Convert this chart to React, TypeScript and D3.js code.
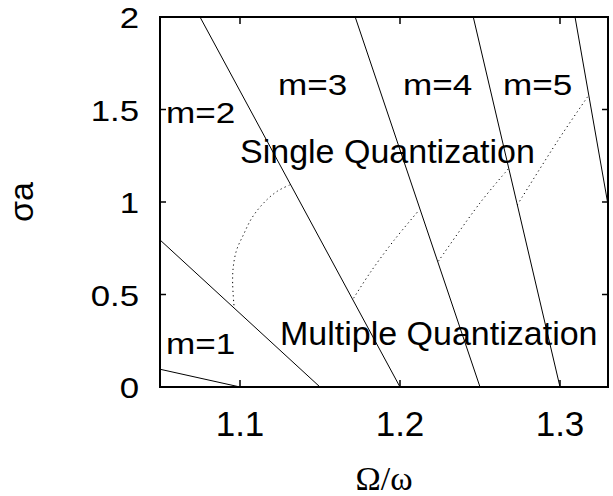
import React from 'react';
import * as d3 from 'd3';

// ---- data ----
const xDomain: [number, number] = [1.05, 1.33];
const yDomain: [number, number] = [0, 2];
const xTicks = [1.1, 1.2, 1.3];
const xTickLabels = ['1.1', '1.2', '1.3'];
const yTicks = [0, 0.5, 1, 1.5, 2];
const yTickLabels = ['0', '0.5', '1', '1.5', '2'];

// solid boundary lines between m regions (Ω/ω, σa)
const boundary1: [number, number][] = [[1.05, 0.096], [1.10, 0]];
const boundary2: [number, number][] = [[1.05, 0.795], [1.15, 0]];
const boundary3: [number, number][] = [[1.075, 2], [1.20, 0]];
const boundary4: [number, number][] = [[1.172, 2], [1.25, 0]];
const boundary5: [number, number][] = [[1.2458, 2], [1.30, 0]];
const boundary6: [number, number][] = [[1.3094, 2], [1.35, 0]];
const boundaries = [boundary1, boundary2, boundary3, boundary4, boundary5, boundary6];

// dotted single/multiple quantization borders
const dottedA: [number, number][] = [
  [1.131, 1.092], [1.1229, 1.056], [1.1146, 0.993], [1.1073, 0.912], [1.1021, 0.822],
  [1.0979, 0.741], [1.0958, 0.65], [1.0954, 0.561], [1.0963, 0.435],
];
const dottedB: [number, number][] = [[1.171, 0.48], [1.1815, 0.62], [1.196, 0.79], [1.212, 0.957]];
const dottedC: [number, number][] = [[1.224, 0.68], [1.25, 0.995], [1.268, 1.182]];
const dottedD: [number, number][] = [[1.2733, 0.984], [1.2989, 1.335], [1.318, 1.578]];
const dottedCurves = [dottedA, dottedB, dottedC, dottedD];

const regionLabels = ['m=1', 'm=2', 'm=3', 'm=4', 'm=5'];
const phaseLabels = ['Single Quantization', 'Multiple Quantization'];
const xLabel = 'Ω/ω';
const yLabel = 'σa';

export default function App() {
  const left = 160, right = 608, top = 17, bottom = 387;
  const x = d3.scaleLinear().domain(xDomain).range([left, right]);
  const y = d3.scaleLinear().domain(yDomain).range([bottom, top]);
  const line = d3.line<[number, number]>().x(d => x(d[0])).y(d => y(d[1]));
  const curve = d3.line<[number, number]>().x(d => x(d[0])).y(d => y(d[1])).curve(d3.curveCatmullRom);

  const sans = 'Liberation Sans, Arial, Helvetica, sans-serif';
  const serif = 'Liberation Serif, Times New Roman, serif';

  // region label pixel anchors (left ink edge, baseline)
  const regionPos: [number, number][] = [[166, 354], [166, 123], [278, 95], [403, 95], [503, 95]];

  return (
    <svg width={613} height={496} style={{ position: 'absolute', left: 0, top: 0, background: '#fff' }}
      xmlns="http://www.w3.org/2000/svg">
      <defs>
        <clipPath id="plotclip">
          <rect x={left} y={top} width={right - left} height={bottom - top} />
        </clipPath>
      </defs>
      <rect x={0} y={0} width={613} height={496} fill="#fff" />
      <g clipPath="url(#plotclip)">
        {boundaries.map((b, i) => (
          <path key={'b' + i} d={line(b) || ''} fill="none" stroke="#000" strokeWidth={1} />
        ))}
        {dottedCurves.map((c, i) => (
          <path key={'c' + i} d={curve(c) || ''} fill="none" stroke="#000" strokeWidth={1}
            strokeDasharray="1.2 3.2" />
        ))}
      </g>
      {/* ticks */}
      {xTicks.map((t, i) => (
        <g key={'xt' + i}>
          <line x1={x(t)} x2={x(t)} y1={bottom} y2={bottom - 7} stroke="#000" strokeWidth={1.5} />
          <line x1={x(t)} x2={x(t)} y1={top} y2={top + 7} stroke="#000" strokeWidth={1.5} />
          <text x={x(t)} y={436} textAnchor="middle" fontFamily={sans} fontSize={35}>{xTickLabels[i]}</text>
        </g>
      ))}
      {yTicks.map((t, i) => (
        <g key={'yt' + i}>
          <line x1={left} x2={left + 6} y1={y(t)} y2={y(t)} stroke="#000" strokeWidth={1.5} />
          <line x1={right} x2={right - 6} y1={y(t)} y2={y(t)} stroke="#000" strokeWidth={1.5} />
          <text transform={`translate(139,${y(t) + 11}) scale(1.16,1)`} textAnchor="end"
            fontFamily={sans} fontSize={30}>{yTickLabels[i]}</text>
        </g>
      ))}
      <rect x={left} y={top} width={right - left} height={bottom - top} fill="none" stroke="#000" strokeWidth={2} />
      {/* region labels */}
      {regionLabels.map((l, i) => (
        <text key={'r' + i} transform={`translate(${regionPos[i][0]},${regionPos[i][1]}) scale(1.17,1)`}
          fontFamily={sans} fontSize={30}>{l}</text>
      ))}
      <text x={240} y={163} fontFamily={sans} fontSize={34}>{phaseLabels[0]}</text>
      <text x={280} y={345} fontFamily={sans} fontSize={34}>{phaseLabels[1]}</text>
      {/* axis titles */}
      <text x={384} y={490} textAnchor="middle" fontFamily={serif} fontSize={34}>{xLabel}</text>
      <text transform="translate(33,202) rotate(-90)" textAnchor="middle" fontFamily={sans} fontSize={34}>{yLabel}</text>
    </svg>
  );
}
